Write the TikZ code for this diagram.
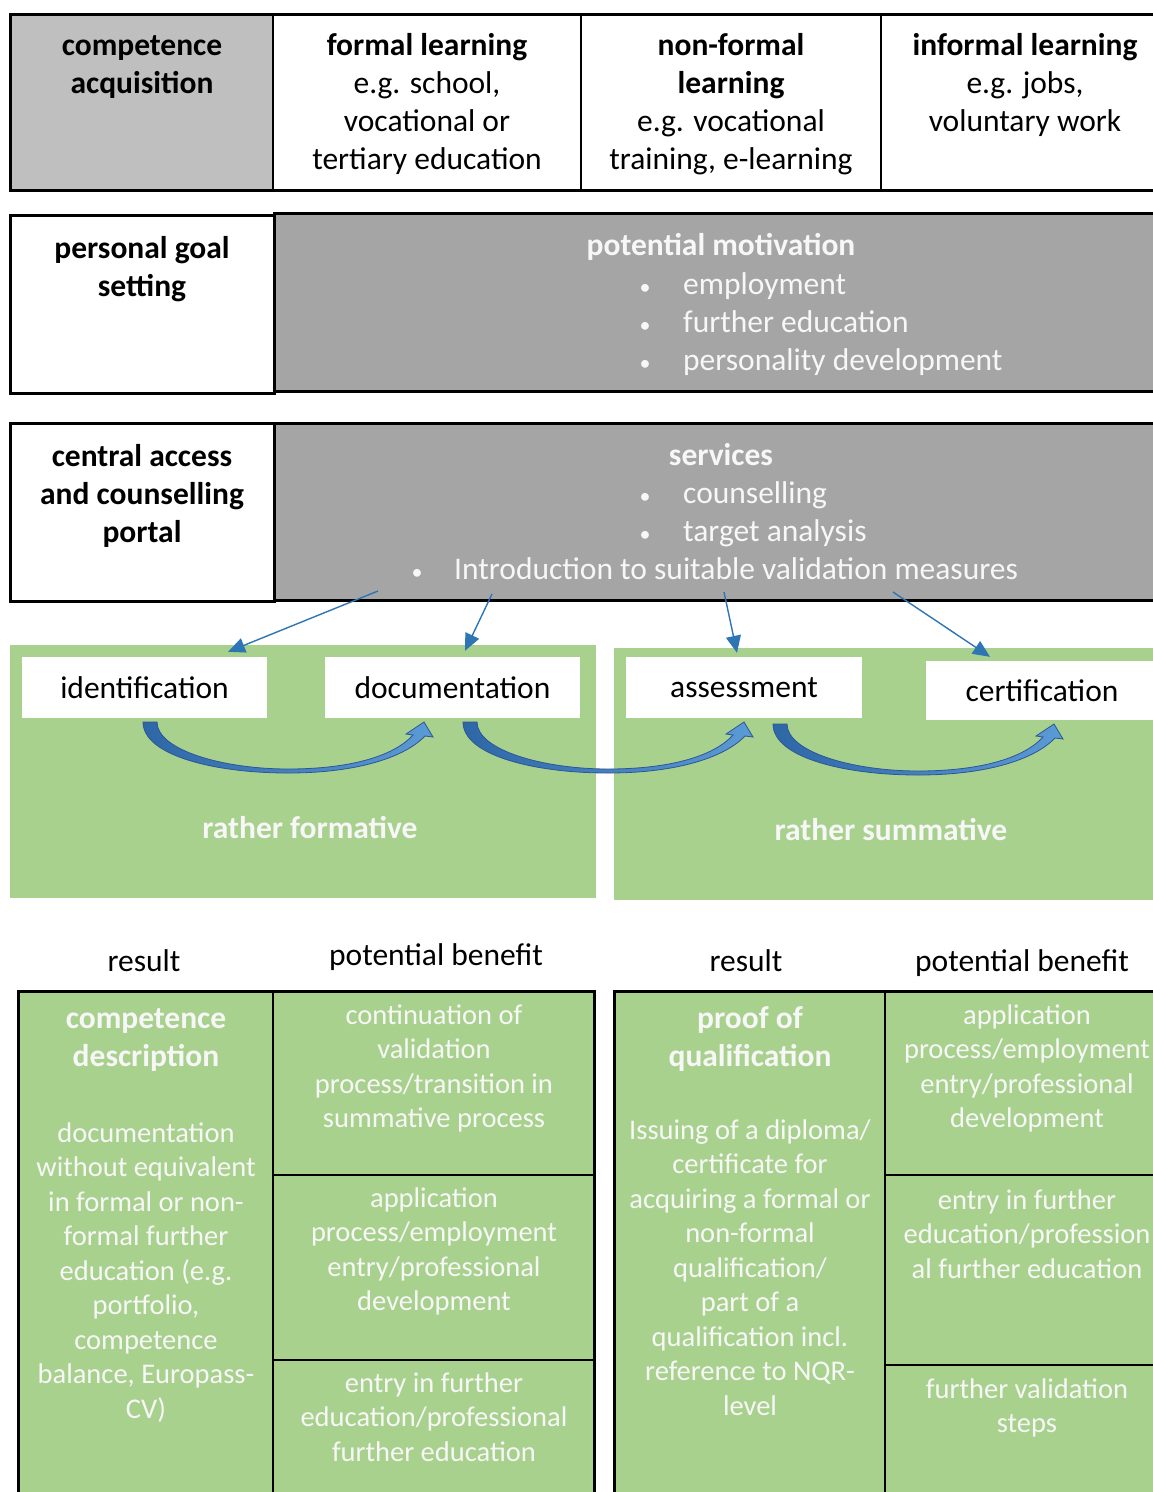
\documentclass[tikz,border=0pt]{standalone}
\usepackage{fontspec}
\setmainfont{Carlito}
\usetikzlibrary{arrows.meta,calc}

\definecolor{hdrgrey}{HTML}{BFBFBF}
\definecolor{boxgrey}{HTML}{A5A5A5}
\definecolor{panelgreen}{HTML}{A9D18E}
\definecolor{linkblue}{HTML}{2E75B6}
\definecolor{bendark}{HTML}{2E67A6}
\definecolor{benlight}{HTML}{5B9BD5}
\definecolor{benedge}{HTML}{2F5597}
\definecolor{softwhite}{HTML}{F7F7F7}

\tikzset{
  tx/.style={inner sep=0pt, align=center, anchor=north},
  big/.style={tx, font=\fontsize{31.5}{38}\selectfont},
  bigb/.style={tx, font=\fontsize{31.5}{38}\selectfont\bfseries},
  small/.style={tx, font=\fontsize{28.5}{34.5}\selectfont, text=softwhite},
  line1/.style={inner sep=0pt, anchor=base, font=\fontsize{31.5}{38}\selectfont},
  item/.style={inner sep=0pt, anchor=base west, font=\fontsize{31.5}{38}\selectfont, text=softwhite},
  bul/.style={inner sep=0pt, anchor=base, font=\fontsize{22}{38}\selectfont, text=softwhite},
  frame/.style={line width=3pt},
  stepbox/.style={fill=white, inner sep=0pt, font=\fontsize{31.5}{38}\selectfont},
  link/.style={draw=linkblue, line width=1.4pt, -{Triangle[length=17pt,width=15pt]}},
  bentarrow/.style={left color=bendark, right color=benlight, draw=benedge, line width=0.8pt},
}

\begin{document}
\begin{tikzpicture}[x=1pt,y=-1pt]
\useasboundingbox (0,0) rectangle (1153,1492);
\clip (0,0) rectangle (1153,1492);
\fill[white] (0,0) rectangle (1153,1492);

% ---------- row 1: ways of competence acquisition ----------
\fill[hdrgrey] (10,14) rectangle (273,190);
\draw[frame] (10,14) rectangle (1175,190);
\draw[line width=2.5pt] (273,14) -- (273,190) (581,14) -- (581,190) (881,14) -- (881,190);
\node[bigb] (ca) at (142,28.4) {\strut competence\\acquisition};
\node[big] (fl) at (427,28.4) {\strut{\bfseries formal learning}\\e.g. school,\\vocational or\\tertiary education};
\node[big] (nfl) at (731,28.4) {\strut{\bfseries non-formal}\\{\bfseries learning}\\e.g. vocational\\training, e-learning};
\node[big] (il) at (1025,28.4) {\strut{\bfseries informal learning}\\e.g. jobs,\\voluntary work};

% ---------- row 2: personal goal setting ----------
\fill[boxgrey] (274,213) rectangle (1175,391);
\draw[frame] (274,213) rectangle (1175,391);
\draw[frame, fill=white] (10,215) rectangle (274,393);
\node[bigb] (pg) at (142,231.4) {\strut personal goal\\setting};
\node[bigb, text=softwhite] (pm) at (721,228.4) {\strut potential motivation};
\foreach \t/\y [count=\i] in {employment/285, further education/323, personality development/361} {
  \node[bul] (pmb\i) at (645,\y+9) {•};
  \node[item] (pmi\i) at (683,\y+9) {\t};
}

% ---------- row 3: counselling portal ----------
\fill[boxgrey] (274,423) rectangle (1175,600);
\draw[frame] (274,423) rectangle (1175,600);
\draw[frame, fill=white] (10,423) rectangle (274,601);
\node[bigb] (cp) at (142,439.4) {\strut central access\\and counselling\\portal};
\node[bigb, text=softwhite] (sv) at (721,438.4) {\strut services};
\foreach \t/\y [count=\i] in {counselling/494, target analysis/532} {
  \node[bul] (svb\i) at (645,\y+9) {•};
  \node[item] (svi\i) at (683,\y+9) {\t};
}
\node[bul] (svb3) at (417,579) {•};
\node[item] (svi3) at (454,579) {Introduction to suitable validation measures};

% ---------- validation steps ----------
\fill[panelgreen] (10,645) rectangle (596,898);
\fill[panelgreen] (614,648) rectangle (1175,900);

\node[stepbox, minimum width=245pt, minimum height=61pt] (idn) at (144.5,687.5) {identification};
\node[stepbox, minimum width=255pt, minimum height=61pt] (doc) at (452.5,687.5) {documentation};
\node[stepbox, minimum width=236pt, minimum height=61pt] (ass) at (744,687.5) {assessment};
\node[stepbox, minimum width=232pt, minimum height=59pt] (cert) at (1042,690.5) {certification};

\node[line1, font=\fontsize{31.5}{38}\selectfont\bfseries, text=softwhite] (form) at (310,838) {rather formative};
\node[line1, font=\fontsize{31.5}{38}\selectfont\bfseries, text=softwhite] (summ) at (891,840) {rather summative};

% connectors from the services box to the steps
\coordinate (s1) at (378,591);
\coordinate (s2) at (492,594);
\coordinate (s3) at (724,592);
\coordinate (s4) at (893,592);
\draw[link] (s1) -- ([xshift=83.5pt,yshift=5pt]idn.north);
\draw[link] (s2) -- ([xshift=12.5pt,yshift=6pt]doc.north);
\draw[link] (s3) -- ([xshift=-7pt,yshift=4pt]ass.north);
\draw[link] (s4) -- ([xshift=-52pt,yshift=4pt]cert.north);

% curved block arrows between consecutive steps
\foreach \sx/\sy in {143/0, 463/0, 773/2} {
  \begin{scope}[shift={(\sx,\sy)}]
    \path[bentarrow] (0,722) .. controls (0,755) and (70,773) .. (145,773)
      .. controls (215,773) and (262,757) .. (282,736)
      -- (290,737) -- (281,722) -- (263,734) -- (270,735)
      .. controls (252,755) and (210,769) .. (145,769)
      .. controls (80,769) and (14,750) .. (14,722) -- cycle;
  \end{scope}
}

% ---------- results and benefits ----------
\node[line1] (r1) at (144,971) {result};
\node[line1] (b1) at (436,965) {potential benefit};
\node[line1] (r2) at (746,971) {result};
\node[line1] (b2) at (1022,971) {potential benefit};

% left table (formative)
\fill[panelgreen] (18,991) rectangle (594,1510);
\draw[frame] (18,1510) -- (18,991) -- (594,991) -- (594,1510);
\draw[line width=2.5pt] (273,991) -- (273,1510) (273,1175) -- (594,1175) (273,1360) -- (594,1360);
\node[bigb, text=softwhite] (cdh) at (146,1001.4) {\strut competence\\description};
\node[small] (cdb) at (146,1118) {\strut documentation\\without equivalent\\in formal or non-\\formal further\\education (e.g.\\portfolio,\\competence\\balance, Europass-\\CV)};
\node[small] (lb1) at (434,1000) {\strut continuation of\\validation\\process/transition in\\summative process};
\node[small] (lb2) at (434,1183) {\strut application\\process/employment\\entry/professional\\development};
\node[small] (lb3) at (434,1368) {\strut entry in further\\education/professional\\further education};

% right table (summative)
\fill[panelgreen] (614,991) rectangle (1175,1510);
\draw[frame] (614,1510) -- (614,991) -- (1175,991);
\draw[line width=2.5pt] (885,991) -- (885,1510) (885,1175) -- (1175,1175) (885,1365) -- (1175,1365);
\node[bigb, text=softwhite] (pqh) at (750,1001.4) {\strut proof of\\qualification};
\node[small] (pqb) at (750,1115) {\strut Issuing of a diploma/\\certificate for\\acquiring a formal or\\non-formal\\qualification/\\part of a\\qualification incl.\\reference to NQR-\\level};
\node[small] (rb1) at (1027,1000) {\strut application\\process/employment\\entry/professional\\development};
\node[small] (rb2) at (1027,1185) {\strut entry in further\\education/profession\\al further education};
\node[small] (rb3) at (1027,1374) {\strut further validation\\steps};
\end{tikzpicture}
\end{document}
